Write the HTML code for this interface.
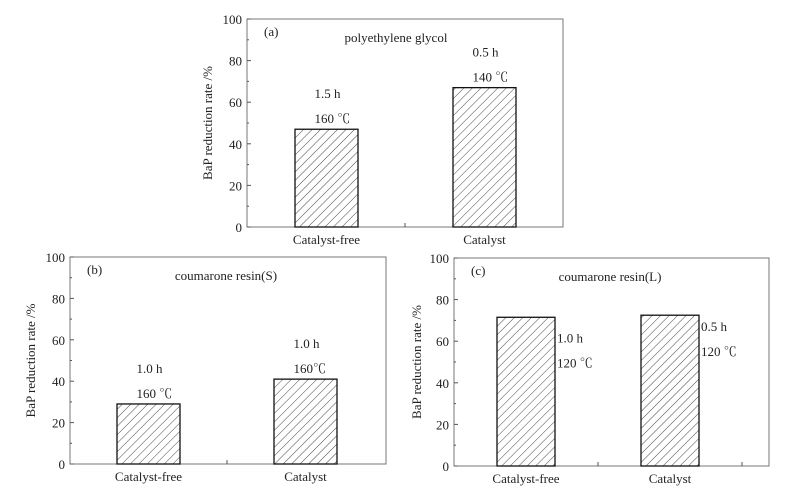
<!DOCTYPE html>
<html><head><meta charset="utf-8">
<style>
body{margin:0;background:#fff;}
svg{display:block;font-family:"Liberation Serif","Noto Serif CJK SC",serif;}
</style></head>
<body>
<svg id="fig" width="804" height="490" viewBox="0 0 804 490" xmlns="http://www.w3.org/2000/svg">
<defs>
<pattern id="hatch" patternUnits="userSpaceOnUse" width="6" height="6" patternTransform="rotate(45)">
<line x1="0" y1="0" x2="0" y2="6" stroke="#333" stroke-width="0.9"/>
</pattern>
</defs>
</svg>
<script>
const categories = ["Catalyst-free","Catalyst"];
const valuesA = [47, 67];
const valuesB = [29, 41];
const valuesC = [71.5, 72.5];
const yTicks = [0,20,40,60,80,100];
const notesA = [["1.5 h","160 ℃"],["0.5 h","140 ℃"]];
const notesB = [["1.0 h","160 ℃"],["1.0 h","160℃"]];
const notesC = [["1.0 h","120 ℃"],["0.5 h","120 ℃"]];

const svg = document.getElementById('fig');
const NS = "http://www.w3.org/2000/svg";
function mk(tag, attrs, parent, text){
  const e = document.createElementNS(NS, tag);
  for (const k in attrs) e.setAttribute(k, attrs[k]);
  if (text !== undefined) e.textContent = text;
  parent.appendChild(e);
  return e;
}

function panel(cfg){
  const g = mk('g', {}, svg);
  
  
  const {x0,x1,yT,yB} = cfg;
  const ys = v => yB - (v/100)*(yB-yT);
  const fr = mk('rect', {x:x0,y:yT,width:x1-x0,height:yB-yT,fill:'none',stroke:'#777','stroke-width':1}, g);
  
  
  for (let v=0; v<=100; v+=10){
    const major = yTicks.includes(v);
    mk('line', {x1:x0,x2:x0+(major?4:2),y1:ys(v),y2:ys(v),stroke:'#555','stroke-width':1}, g);
  }
  yTicks.forEach(v=>{
    const t = mk('text', {x:x0-5,y:ys(v)+5,'text-anchor':'end','font-size':13,fill:'#222'}, g, String(v));
    
    
  });
  const yl = mk('text', {x:0,y:0,transform:`translate(${cfg.ylx},${(yT+yB)/2}) rotate(-90)`,'text-anchor':'middle','font-size':13,fill:'#222'}, g, 'BaP reduction rate /%');
  
  
  cfg.midTicks.forEach(mx=>mk('line',{x1:mx,x2:mx,y1:yB,y2:yB-4,stroke:'#555'},g));
  cfg.vals.forEach((v,i)=>{
    const bx = cfg.barX[i], bw = cfg.barW;
    const r = mk('rect', {x:bx,y:ys(v),width:bw,height:yB-ys(v),fill:'url(#hatch)',stroke:'#111','stroke-width':1.3}, g);
    
    
    const c = mk('text', {x:bx+bw/2,y:yB+17,'text-anchor':'middle','font-size':13,fill:'#222'}, g, categories[i]);
    
    
    const n = cfg.notes[i];
    let nx, ny1, ny2;
    if (cfg.side){ nx = bx+bw+2; ny1 = ys(v)+cfg.sideOff[i]; ny2 = ny1+25; }
    else { nx = bx+bw/2-12; ny2 = ys(v)-6; ny1 = ny2-25; }
    const a1 = mk('text', {x:nx,y:ny1,'font-size':13,fill:'#222'}, g, n[0]);
    
    
    const a2 = mk('text', {x:nx,y:ny2,'font-size':13,fill:'#222'}, g, n[1]);
    
    
  });
  const pl = mk('text', {x:x0+17,y:yT+17,'font-size':13,fill:'#222'}, g, '('+cfg.id+')');
  
  
  const tt = mk('text', {x:cfg.titleX,y:yT+23,'text-anchor':'middle','font-size':13,fill:'#222'}, g, cfg.title);
  
  
}

panel({id:'a',x0:247,x1:563,yT:19,yB:227,ylx:212,vals:valuesA,notes:notesA,barX:[295,453],barW:63,midTicks:[405],title:'polyethylene glycol',titleX:396,side:false});
panel({id:'b',x0:70,x1:386,yT:257,yB:464,ylx:35,vals:valuesB,notes:notesB,barX:[117,274],barW:63,midTicks:[227],title:'coumarone resin(S)',titleX:226,side:false});
panel({id:'c',x0:454,x1:769,yT:258,yB:466,ylx:421,vals:valuesC,notes:notesC,barX:[497,641],barW:58,midTicks:[598,742],title:'coumarone resin(L)',titleX:610,side:true,sideOff:[25,16]});
</script>
</body></html>
